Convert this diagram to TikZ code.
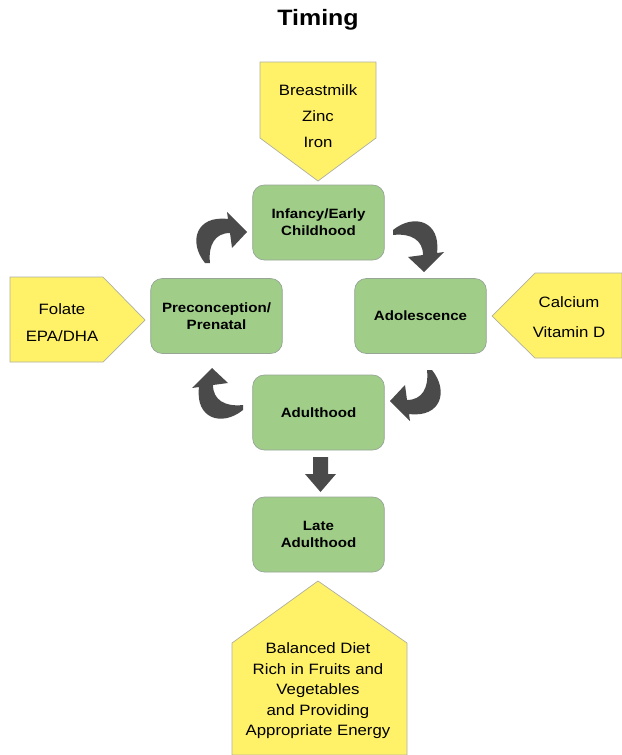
\documentclass[tikz,border=0pt]{standalone}
\usepackage{fontspec}
\setmainfont[FakeStretch=1.12]{Liberation Sans}
\definecolor{boxgreen}{RGB}{160,206,137}
\definecolor{boxedge}{RGB}{150,165,150}
\definecolor{tagyellow}{RGB}{255,242,105}
\definecolor{tagedge}{RGB}{175,175,160}
\definecolor{arrowgray}{RGB}{74,74,74}
\begin{document}
\begin{tikzpicture}[x=0.03cm,y=-0.03cm,
  stage/.style={draw=boxedge, line width=0.6pt, fill=boxgreen, rounded corners=10pt,
    minimum width=3.95cm, minimum height=2.25cm, inner sep=0pt, align=center,
    font=\bfseries\fontsize{11.5}{14.5}\selectfont},
  tag/.style={draw=tagedge, line width=0.6pt, fill=tagyellow},
  tagtext/.style={align=center, inner sep=0pt, font=\fontsize{12.8}{22}\selectfont},
  cyclearrow/.style={fill=arrowgray}]
\useasboundingbox (0,0) rectangle (622,755);

% title
\node (title) at (318,20) {\bfseries\fontsize{19}{22}\selectfont Timing};

% yellow tags
\draw[tag] (260,62) -- (376,62) -- (376,138) -- (318,181) -- (260,138) -- cycle;
\node[tagtext] (toptext) at (318,116) {Breastmilk\\Zinc\\Iron};

\draw[tag] (10,277) -- (103,277) -- (145,320) -- (103,362) -- (10,362) -- cycle;
\node[tagtext, font=\fontsize{12.8}{23}\selectfont] (lefttext) at (62,323) {Folate\\EPA/DHA};

\draw[tag] (492,316) -- (535,273) -- (622,273) -- (622,358) -- (535,358) -- cycle;
\node[tagtext, font=\fontsize{12.8}{25.5}\selectfont] (righttext) at (569,317) {Calcium\\Vitamin D};

\draw[tag] (318,581) -- (407,643) -- (407,755) -- (232,755) -- (232,643) -- cycle;
\node[tagtext, font=\fontsize{12.8}{17.5}\selectfont] (bottomtext) at (318,691)
  {Balanced Diet\\Rich in Fruits and\\Vegetables\\and Providing\\Appropriate Energy};

% stages
\node[stage] (infancy) at (318.5,222.5) {Infancy/Early\\Childhood};
\node[stage] (precon) at (216.5,316) {Preconception/\\Prenatal};
\node[stage] (adol) at (420.5,316) {Adolescence};
\node[stage] (adult) at (318.5,412.5) {Adulthood};
\node[stage] (late) at (318.5,534.5) {Late\\Adulthood};

% curved cycle arrows
\newcommand{\cycleshape}{%
  \fill[cyclearrow] (-15,26) .. controls (-32,5) and (-24,-22) .. (8,-18)
    -- (7,-25) -- (27,-5) -- (12,11) -- (10,-4)
    .. controls (-5,-4) and (-12,8) .. (-10,26) -- cycle;}
\begin{scope}[shift={(220,237)}]\cycleshape\end{scope}
\begin{scope}[shift={(419,245)}, rotate=-90]\cycleshape\end{scope}
\begin{scope}[shift={(417,396)}, rotate=-180]\cycleshape\end{scope}
\begin{scope}[shift={(217,395)}, rotate=-270]\cycleshape\end{scope}

% down arrow
\fill[arrowgray] (313,457) -- (328,457) -- (328,474) -- (336,474) -- (320.5,492)
  -- (305,474) -- (313,474) -- cycle;
\end{tikzpicture}
\end{document}
